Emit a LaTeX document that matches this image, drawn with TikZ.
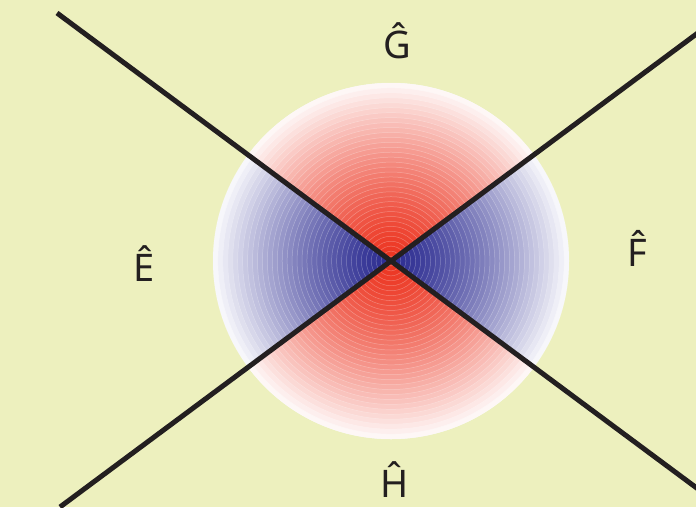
\documentclass[tikz,border=0pt]{standalone}
\usepackage{fontspec}
\newfontfamily\lblfont{Noto Sans}
\usetikzlibrary{calc}
\definecolor{bgcol}{RGB}{237,240,190}
\definecolor{qred}{RGB}{236,54,34}
\definecolor{qblue}{RGB}{46,46,146}
\definecolor{linecol}{RGB}{35,31,32}
\tikzset{
  axisline/.style={draw=linecol, line width=5pt},
  hatlabel/.style={font=\lblfont\fontsize{38}{40}\selectfont, text=linecol, inner sep=0pt, anchor=base},
  ringsep/.style={draw=white, draw opacity=0.3, line width=0.5pt}
}
\begin{document}
\begin{tikzpicture}[x=1pt,y=-1pt]
  \fill[bgcol] (0,0) rectangle (696,507);
  \useasboundingbox (0,0) rectangle (696,507);
  \clip (0,0) rectangle (696,507);
  \coordinate (c) at (391,261);
  \coordinate (a1) at (57,13);
  \coordinate (a2) at ($(a1)!2!(c)$);
  \coordinate (b1) at (60,507);
  \coordinate (b2) at ($(b1)!2!(c)$);
  % blue rings on the whole disc
  \foreach \i in {36,35,...,1}{
    \pgfmathsetmacro\p{100*(1-((\i-1)/36)^1.4)}
    \fill[qblue!\p!white] (c) circle ({178*\i/36});
    \draw[ringsep] (c) circle ({178*\i/36});
  }
  % red rings in the top and bottom quadrants
  \begin{scope}
    \clip (c) -- ($(c)!1.5!(a1)$) -- ($(c)!1.5!(b2)$) -- cycle
          (c) -- ($(c)!1.5!(b1)$) -- ($(c)!1.5!(a2)$) -- cycle;
    \foreach \i in {36,35,...,1}{
      \pgfmathsetmacro\p{100*(1-((\i-1)/36)^1.4)}
      \fill[qred!\p!white] (c) circle ({178*\i/36});
      \draw[ringsep] (c) circle ({178*\i/36});
    }
  \end{scope}
  \draw[axisline] (a1) -- (a2);
  \draw[axisline] (b1) -- (b2);
  \node[hatlabel] (G) at (397.5,58.5) {Ĝ};
  \node[hatlabel] (E) at (144,281) {Ê};
  \node[hatlabel] (F) at (637.5,266.7) {F̂};
  \node[hatlabel] (H) at (394.5,497) {Ĥ};
\end{tikzpicture}
\end{document}
